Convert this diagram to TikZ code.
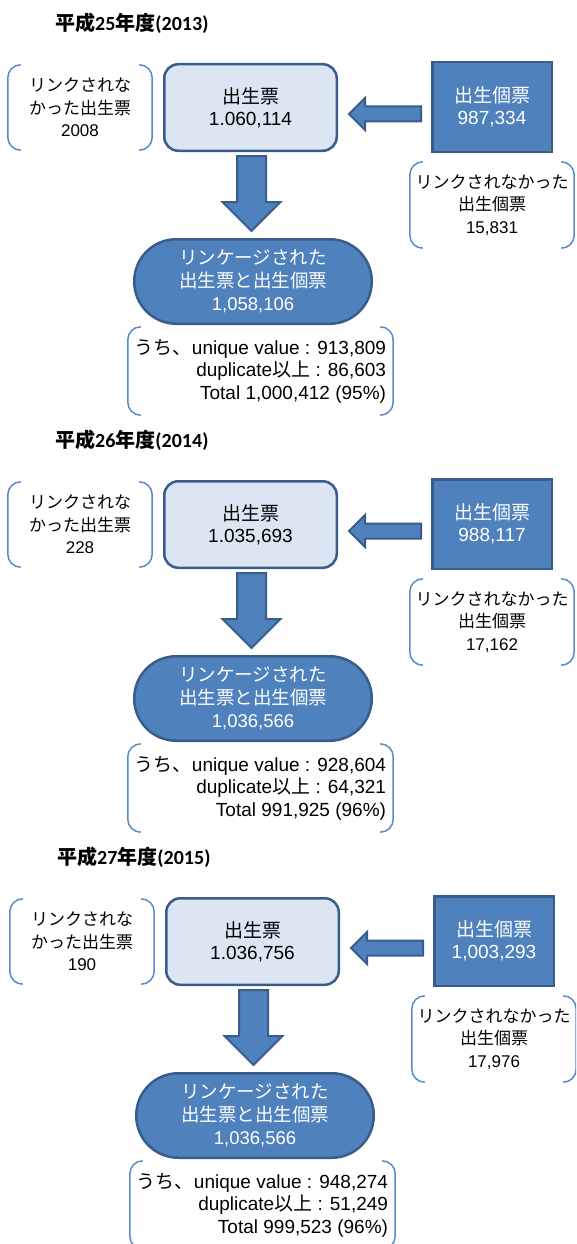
\documentclass[tikz,border=0pt]{standalone}
\usepackage{fontspec}
\setmainfont{Liberation Sans}
\newfontfamily\ja{Noto Sans CJK JP}
\newfontfamily\ttl{Carlito}
\usetikzlibrary{calc}
\definecolor{dkblue}{HTML}{4F81BD}
\definecolor{dkborder}{HTML}{385D8A}
\definecolor{ltfill}{HTML}{DCE6F2}
\definecolor{brk}{HTML}{5A8AC6}
\tikzset{
 hyobox/.style={draw=dkborder, line width=2.5pt, fill=ltfill, rounded corners=14pt, minimum width=172.5pt, minimum height=86.5pt, inner sep=0pt, align=center, font=\fontsize{19}{22}\selectfont},
 kohyobox/.style={draw=dkborder, line width=2.5pt, fill=dkblue, minimum width=119.5pt, minimum height=89.5pt, inner sep=0pt, align=center, text=white, font=\fontsize{19}{22}\selectfont},
 stadbox/.style={draw=dkborder, line width=2.5pt, fill=dkblue, rounded corners=42pt, minimum width=237.5pt, minimum height=84.5pt, inner sep=0pt, align=center, text=white, font=\fontsize{18.5}{23}\selectfont},
 brkbox/.style={inner sep=0pt, align=center, font=\fontsize{17}{22.5}\selectfont},
 notebox/.style={inner sep=0pt, align=right, minimum width=265pt, minimum height=88pt, font=\fontsize{19}{22.5}\selectfont},
 brkline/.style={draw=brk, line width=1.5pt},
 blockarrow/.style={fill=dkblue, draw=dkborder, line width=2pt, line join=miter},
 titletext/.style={font=\ttl\bfseries\fontsize{20}{24}\selectfont, anchor=west, inner sep=0pt},
}
\newcommand\brackets[1]{%
 \draw[brkline] ([xshift=13pt]#1.north west) to[out=180,in=90] ([yshift=-13pt]#1.north west) -- ([yshift=13pt]#1.south west) to[out=-90,in=180] ([xshift=13pt]#1.south west);
 \draw[brkline] ([xshift=-13pt]#1.north east) to[out=0,in=90] ([yshift=-13pt]#1.north east) -- ([yshift=13pt]#1.south east) to[out=-90,in=0] ([xshift=-13pt]#1.south east);}
% values for the note box are set before each panel
\newcommand\pLinked{}\newcommand\pUnique{}\newcommand\pDupl{}\newcommand\pTotal{}
\newcommand\panel[9]{%
\begin{scope}[shift={(#1,#2)}]
 \node[titletext] (#3title) at (55,-23) {{\ja 平成}#4{\ja 年度}(#5)};
 \node[brkbox, minimum width=144pt, minimum height=85pt] (#3lb) at (80,-107.5) {{\ja リンクされな}\\{\ja かった出生票}\\#6};
 \brackets{#3lb}
 \node[hyobox] (#3hyo) at (250.5,-107.5) {{\ja 出生票}\\#7};
 \node[kohyobox] (#3kohyo) at (492,-107) {{\ja 出生個票}\\#8};
 \node[brkbox, minimum width=164pt, minimum height=86pt] (#3rb) at (492,-205) {{\ja リンクされなかった}\\{\ja 出生個票}\\#9};
 \brackets{#3rb}
 \node[stadbox] (#3stad) at (253,-281.5) {{\ja リンケージされた}\\{\ja 出生票と出生個票}\\\pLinked};
 \node[notebox] (#3bb) at (260.5,-371) {{\ja うち、}unique value : \pUnique\\duplicate{\ja 以上} : \pDupl\\Total \pTotal};
 \brackets{#3bb}
 \path[blockarrow] let \p1=($(#3kohyo.west)+(-10pt,-7pt)$), \p2=($(#3hyo.east)+(11pt,-7pt)$) in
  (\x1,\y1+7.5pt) -- (\x2+16pt,\y1+7.5pt) -- (\x2+16pt,\y1+16pt) -- (\x2,\y1) -- (\x2+16pt,\y1-16pt) -- (\x2+16pt,\y1-7.5pt) -- (\x1,\y1-7.5pt) -- cycle;
 \path[blockarrow] let \p1=($(#3hyo.south)+(1pt,-4pt)$), \p2=($(#3stad.north)+(0pt,7pt)$) in
  (\x1-14.5pt,\y1) -- (\x1+14.5pt,\y1) -- (\x1+14.5pt,\y2+29pt) -- (\x1+29pt,\y2+29pt) -- (\x1,\y2) -- (\x1-29pt,\y2+29pt) -- (\x1-14.5pt,\y2+29pt) -- cycle;
\end{scope}}
\begin{document}
\begin{tikzpicture}[x=1pt,y=1pt]
\useasboundingbox (0,0) rectangle (576,-1244);
\clip (0,0) rectangle (576,-1244);
\fill[white] (0,0) rectangle (576,-1244);
\renewcommand\pLinked{1,058,106}\renewcommand\pUnique{913,809}\renewcommand\pDupl{86,603}\renewcommand\pTotal{1,000,412 (95\%)}
\panel{0}{0}{a}{25}{2013}{2008}{1.060,114}{987,334}{15,831}
\renewcommand\pLinked{1,036,566}\renewcommand\pUnique{928,604}\renewcommand\pDupl{64,321}\renewcommand\pTotal{991,925 (96\%)}
\panel{0}{-417}{b}{26}{2014}{228}{1.035,693}{988,117}{17,162}
\renewcommand\pLinked{1,036,566}\renewcommand\pUnique{948,274}\renewcommand\pDupl{51,249}\renewcommand\pTotal{999,523 (96\%)}
\panel{2}{-834}{c}{27}{2015}{190}{1.036,756}{1,003,293}{17,976}
\end{tikzpicture}
\end{document}
